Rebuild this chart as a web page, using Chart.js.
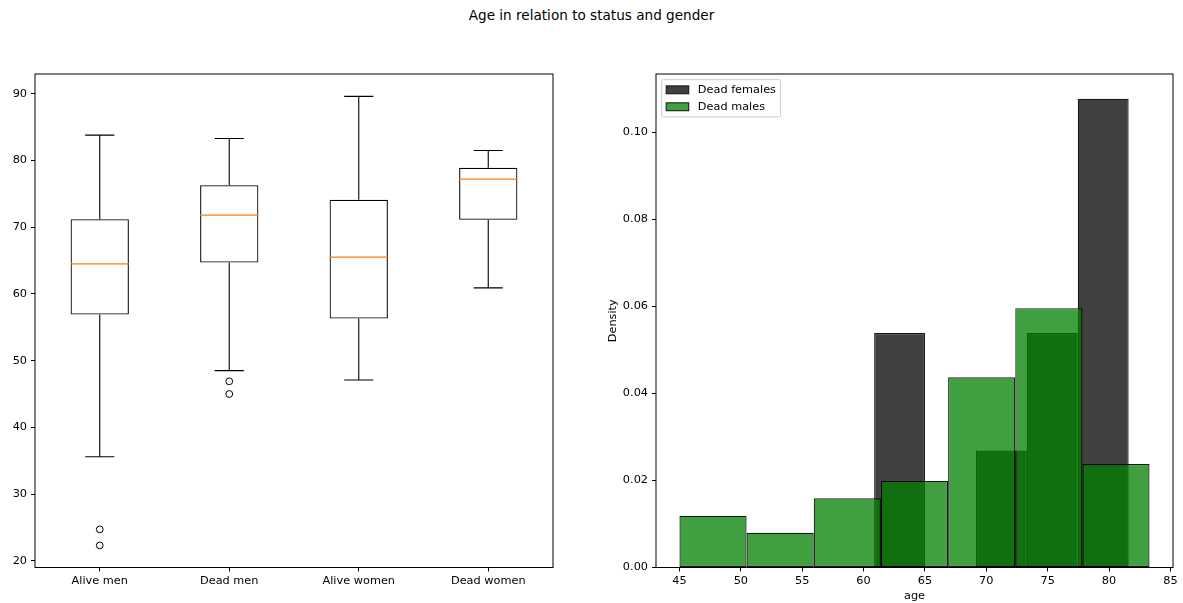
<!DOCTYPE html>
<html>
<head>
<meta charset="utf-8">
<title>Age in relation to status and gender</title>
<script src="https://cdn.jsdelivr.net/npm/chart.js@4.4.1/dist/chart.umd.min.js"></script>
<style>
  html, body { margin: 0; padding: 0; background: #fff; }
  body { width: 1183px; height: 603px; position: relative; overflow: hidden; font-family: 'DejaVu Sans', sans-serif; }
  #suptitle { position: absolute; left: 0; top: 7px; width: 1183px; text-align: center; font-size: 13.6px; line-height: 17px; color: #000; }
  canvas { position: absolute; top: 0; }
  #boxChart { left: 0; }
  #histChart { left: 591px; }
</style>
</head>
<body>
<div id="suptitle">Age in relation to status and gender</div>
<canvas id="boxChart" width="591" height="603"></canvas>
<canvas id="histChart" width="592" height="603"></canvas>
<script>
// box plot: age per group
const groups = ['Alive men', 'Dead men', 'Alive women', 'Dead women'];
const whiskerLow = [35.6, 48.5, 47.1, 60.9];
const q1 = [56.9, 64.7, 56.3, 71.1];
const median = [64.5, 71.8, 65.5, 77.2];
const q3 = [71.2, 76.3, 74.1, 78.9];
const whiskerHigh = [83.8, 83.3, 89.6, 81.5];
const fliers = [[24.7, 22.3], [46.9, 45.0], [], []];
const ageTicksBox = [20, 30, 40, 50, 60, 70, 80, 90];

// histogram: age density of the dead, bin edges + density per bin
const femaleEdges = [60.86, 65.01, 69.16, 73.30, 77.45, 81.60];
const femaleDensity = [0.0539, 0, 0.0269, 0.0539, 0.1077];
const maleEdges = [45.0, 50.47, 55.94, 61.41, 66.89, 72.36, 77.83, 83.30];
const maleDensity = [0.0119, 0.0080, 0.0159, 0.0199, 0.0437, 0.0596, 0.0238];
const ageTicksHist = [45, 50, 55, 60, 65, 70, 75, 80, 85];
const densityTicks = [0, 0.02, 0.04, 0.06, 0.08, 0.10];

Chart.defaults.font.family = "'DejaVu Sans', sans-serif";
Chart.defaults.font.size = 11.3;
Chart.defaults.color = '#000';

const EM = 11.3;

// black box around the plot area
const frame = {
  id: 'frame',
  afterDatasetsDraw(chart) {
    const { ctx, chartArea: a } = chart;
    ctx.save();
    ctx.strokeStyle = '#000';
    ctx.lineWidth = 1;
    ctx.strokeRect(a.left, a.top, a.right - a.left, a.bottom - a.top);
    ctx.restore();
  }
};

// legend box in the upper left corner of the plot area
const cornerLegend = {
  id: 'cornerLegend',
  afterDraw(chart) {
    const { ctx, chartArea: a } = chart;
    const sets = chart.data.datasets;
    ctx.save();
    ctx.font = EM + "px 'DejaVu Sans'";
    const textW = Math.max(...sets.map(d => ctx.measureText(d.label).width));
    const pad = 0.4 * EM, rowH = EM, gap = 0.5 * EM;
    const handleW = 2 * EM, handleH = 0.7 * EM, textPad = 0.8 * EM;
    const x = a.left + 0.5 * EM, y = a.top + 0.5 * EM;
    const w = pad * 2 + handleW + textPad + textW;
    const h = pad * 2 + sets.length * rowH + (sets.length - 1) * gap;
    ctx.beginPath();
    ctx.roundRect(x, y, w, h, 2);
    ctx.fillStyle = 'rgba(255,255,255,0.8)';
    ctx.fill();
    ctx.strokeStyle = '#cccccc';
    ctx.lineWidth = 1;
    ctx.stroke();
    sets.forEach((d, i) => {
      const cy = y + pad + rowH / 2 + i * (rowH + gap);
      ctx.fillStyle = d.backgroundColor;
      ctx.fillRect(x + pad, cy - handleH / 2, handleW, handleH);
      ctx.strokeStyle = d.borderColor;
      ctx.strokeRect(x + pad, cy - handleH / 2, handleW, handleH);
      ctx.fillStyle = '#000';
      ctx.textBaseline = 'middle';
      ctx.textAlign = 'left';
      ctx.fillText(d.label, x + pad + handleW + textPad, cy);
    });
    ctx.restore();
  }
};

// half of a fraction of one category slot, in pixels
function slotHalf(chart, frac) {
  const a = chart.chartArea;
  if (!a) return 0;
  return (a.right - a.left) / groups.length * frac / 2;
}

const tickGrid = { drawOnChartArea: false, drawTicks: true, tickLength: 4, tickColor: '#000', tickWidth: 1 };

new Chart(document.getElementById('boxChart'), {
  type: 'bar',
  data: {
    labels: groups,
    datasets: [
      {
        type: 'line', label: 'median', showLine: false,
        data: groups.map((g, i) => ({ x: g, y: median[i] })),
        pointStyle: 'line', pointRadius: ctx => slotHalf(ctx.chart, 0.45),
        pointBorderColor: '#ff7f0e', pointBorderWidth: 1.2
      },
      {
        type: 'line', label: 'fliers', showLine: false,
        data: fliers.flatMap((vals, i) => vals.map(v => ({ x: groups[i], y: v }))),
        pointStyle: 'circle', pointRadius: 3.4,
        pointBackgroundColor: 'rgba(0,0,0,0)', pointBorderColor: '#000', pointBorderWidth: 1
      },
      {
        type: 'line', label: 'caps', showLine: false,
        data: groups.flatMap((g, i) => [{ x: g, y: whiskerHigh[i] }, { x: g, y: whiskerLow[i] }]),
        pointStyle: 'line', pointRadius: ctx => slotHalf(ctx.chart, 0.225),
        pointBorderColor: '#000', pointBorderWidth: 1.1
      },
      {
        label: 'box', grouped: false,
        data: groups.map((g, i) => [q1[i], q3[i]]),
        backgroundColor: 'rgba(0,0,0,0)', borderColor: '#000', borderWidth: 1.1, borderSkipped: false,
        barPercentage: 0.45, categoryPercentage: 1
      },
      {
        label: 'upper whisker', grouped: false,
        data: groups.map((g, i) => [q3[i], whiskerHigh[i]]),
        backgroundColor: '#000', borderWidth: 0, barThickness: 1.1, inflateAmount: 0
      },
      {
        label: 'lower whisker', grouped: false,
        data: groups.map((g, i) => [whiskerLow[i], q1[i]]),
        backgroundColor: '#000', borderWidth: 0, barThickness: 1.1, inflateAmount: 0
      }
    ]
  },
  options: {
    responsive: false,
    animation: false,
    events: [],
    layout: { padding: { top: 74, right: 38, left: 0, bottom: 0 } },
    plugins: { legend: { display: false }, tooltip: { enabled: false } },
    scales: {
      x: {
        type: 'category', offset: true,
        grid: { ...tickGrid, offset: false },
        border: { display: false },
        ticks: { padding: 3, maxRotation: 0 },
        afterFit(s) { s.height = 35.5; }
      },
      y: {
        type: 'linear', min: 18.99, max: 92.96,
        grid: tickGrid,
        border: { display: false },
        ticks: { padding: 4 },
        afterBuildTicks(s) { s.ticks = ageTicksBox.map(v => ({ value: v })); },
        afterFit(s) { s.width = 35; }
      }
    }
  },
  plugins: [frame]
});

const hiddenAxis = (min, max) => ({
  type: 'linear', axis: 'x', position: 'bottom', display: false, offset: false,
  min, max,
  afterBuildTicks(s) { s.ticks = [{ value: min }, { value: max }]; }
});

const binCenters = edges => edges.slice(0, -1).map((e, i) => (e + edges[i + 1]) / 2);

const xMin = 43.09, xMax = 85.21;

new Chart(document.getElementById('histChart'), {
  type: 'bar',
  data: {
    datasets: [
      {
        label: 'Dead females', xAxisID: 'xf', order: 1, grouped: false,
        data: binCenters(femaleEdges).map((c, i) => ({ x: c, y: femaleDensity[i] })),
        backgroundColor: 'rgba(0,0,0,0.75)', borderColor: 'rgba(0,0,0,0.9)',
        borderWidth: 1.2, borderSkipped: false, inflateAmount: 0,
        barPercentage: 1, categoryPercentage: 1
      },
      {
        label: 'Dead males', xAxisID: 'xm', order: 0, grouped: false,
        data: binCenters(maleEdges).map((c, i) => ({ x: c, y: maleDensity[i] })),
        backgroundColor: 'rgba(0,128,0,0.75)', borderColor: 'rgba(0,0,0,0.9)',
        borderWidth: 1.2, borderSkipped: false, inflateAmount: 0,
        barPercentage: 1, categoryPercentage: 1
      }
    ]
  },
  options: {
    responsive: false,
    animation: false,
    events: [],
    layout: { padding: { top: 74, right: 10, left: 0, bottom: 0 } },
    plugins: { legend: { display: false }, tooltip: { enabled: false } },
    scales: {
      x: {
        type: 'linear', min: xMin, max: xMax, offset: false,
        grid: { ...tickGrid, offset: false },
        border: { display: false },
        ticks: { padding: 3, maxRotation: 0 },
        title: { display: true, text: 'age', padding: { top: 4, bottom: 0 } },
        afterBuildTicks(s) { s.ticks = ageTicksHist.map(v => ({ value: v })); },
        afterFit(s) { s.height = 35.5; }
      },
      xf: hiddenAxis(xMin, xMax),
      xm: hiddenAxis(xMin, xMax),
      y: {
        type: 'linear', min: 0, max: 0.1134,
        grid: tickGrid,
        border: { display: false },
        ticks: { padding: 4, callback: v => v.toFixed(2) },
        title: { display: true, text: 'Density', padding: { top: 15, bottom: 4 } },
        afterBuildTicks(s) { s.ticks = densityTicks.map(v => ({ value: v })); },
        afterFit(s) { s.width = 65; }
      }
    }
  },
  plugins: [frame, cornerLegend]
});
</script>
</body>
</html>
